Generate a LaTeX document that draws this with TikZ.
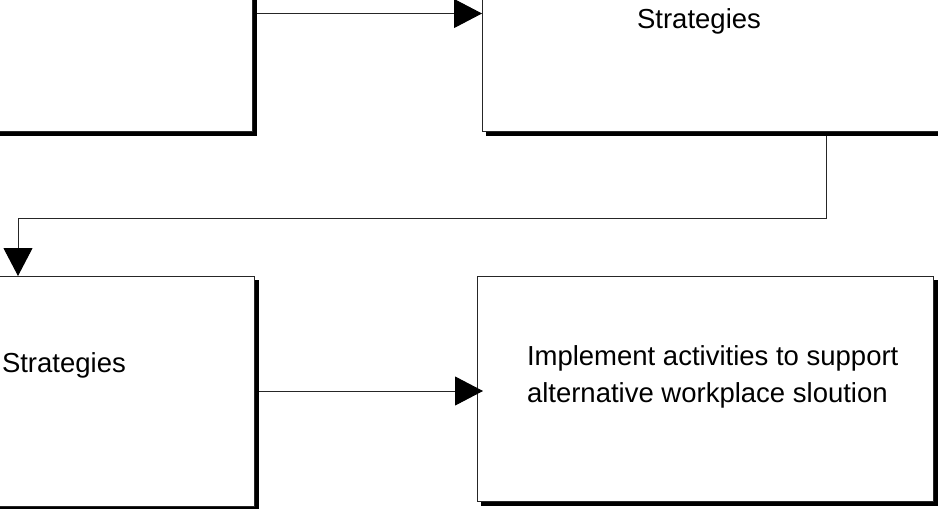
\documentclass[tikz,border=0pt]{standalone}
\usepackage{fontspec}
\setmainfont{Liberation Sans}
\usetikzlibrary{arrows.meta}
\begin{document}
\begin{tikzpicture}[x=1pt,y=-1pt,
  thinline/.style={draw=black!85,line width=1pt},
  stepbox/.style={thinline,rectangle,outer sep=0pt,inner sep=0pt,minimum width=456pt},
  shadowline/.style={draw=black,line width=4pt},
  flow/.style={thinline,-{Triangle[length=28pt,width=29pt,color=black,fill=black]}},
  lbl/.style={inner sep=0pt,outer sep=0pt,font=\fontsize{27.5}{37}\selectfont}]
  \clip (0,0) rectangle (938,509);
  \fill[white] (0,0) rectangle (938,509);

  % boxes
  \node[stepbox,minimum height=235pt] (a) at (24,13.5) {};
  \node[stepbox,minimum height=235pt] (b) at (710,13.5) {};
  \node[stepbox,minimum height=230pt] (c) at (26,391) {};
  \node[stepbox,minimum height=225pt] (d) at (705,388.5) {};

  % texts
  \node[lbl,anchor=base] (btext) at (699,28) {Strategies};
  \node[lbl,anchor=base west] (ctext) at (2,372) {Strategies};
  \node[lbl,anchor=base west,align=left] (dtext) at (527,402)
    {Implement activities to support\\alternative workplace sloution};

  % connectors
  \coordinate (bend) at (826,218);
  \coordinate (cin) at (18,0);
  \draw[flow] (a.east) -- (b.west);
  \draw[flow] (b.south -| bend) -- (bend) -| (cin |- c.north);
  \draw[flow] (c.east) -- ([xshift=6pt]c.east -| d.west);

  % drop shadows on the right and bottom sides
  \foreach \n in {a,b,c,d}
    \draw[shadowline] ([shift={(3,4)}]\n.north east) -- ([shift={(3,3)}]\n.south east) -- ([shift={(4,3)}]\n.south west);
\end{tikzpicture}
\end{document}
